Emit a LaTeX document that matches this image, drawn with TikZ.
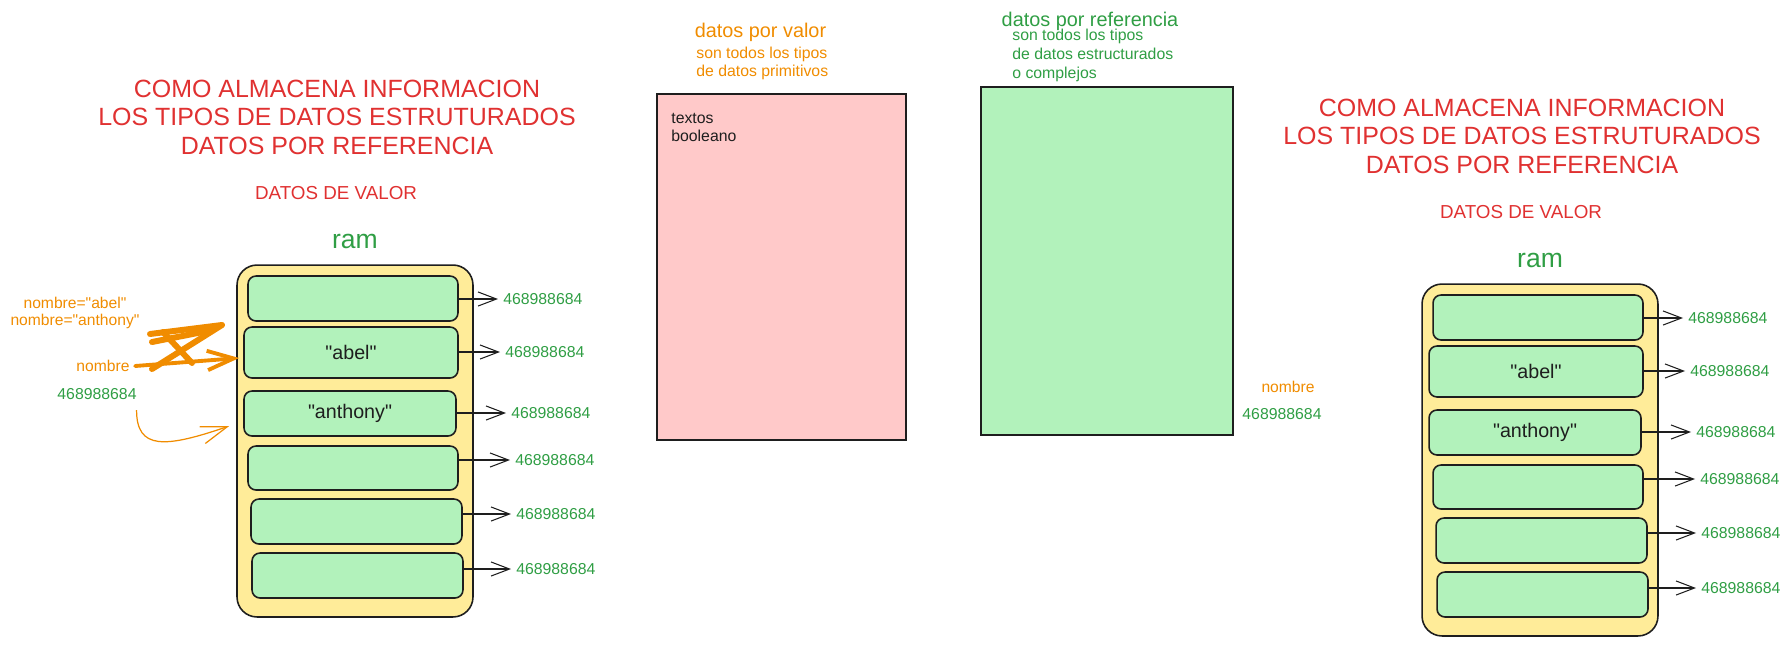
\documentclass[tikz,border=0pt]{standalone}
\usepackage{fontspec}
\setmainfont{Liberation Sans}[Ligatures=TeXOff]
\usetikzlibrary{positioning, arrows.meta, calc}

\definecolor{exred}{HTML}{E03131}
\definecolor{exgreen}{HTML}{2F9E44}
\definecolor{exorange}{HTML}{F08C00}
\definecolor{exink}{HTML}{1E1E1E}
\definecolor{ramfill}{HTML}{FFEC99}
\definecolor{cellfill}{HTML}{B2F2BB}
\definecolor{pinkfill}{HTML}{FFC9C9}

% one memory block: heading, ram box, cells and addresses
\newcommand{\ramblock}[1]{
    \node [title] (#1title) at (337,117) {
        COMO ALMACENA INFORMACION\\
        LOS TIPOS DE DATOS ESTRUTURADOS\\
        DATOS POR REFERENCIA
    };
    \node [subtitle] (#1valor) at (336,193) {DATOS DE VALOR};
    \node [rambox, minimum width=4.72cm, minimum height=7.04cm] (#1box) at (355,441) {};
    \node [ramlabel, above=0.3cm of #1box] (#1ram) {ram};
    \foreach \i/\cx/\cy/\w/\h/\lx/\ly/\txt in {
        1/353/298.5/4.2/0.9/498/299/{},
        2/351/352.5/4.28/1.02/500/352/{"abel"},
        3/350/413.5/4.24/0.9/506/413/{"anthony"},
        4/353/468/4.2/0.88/510/460/{},
        5/356.5/521.5/4.22/0.9/511/514/{},
        6/357.5/575.5/4.22/0.9/511/569/{}}
    {
        \node [cell, minimum width=\w cm, minimum height=\h cm] (#1c\i) at (\cx,\cy) {\txt};
        \node [addr] (#1n\i) at (\lx,\ly) {468988684};
        \draw [arr] (#1c\i.east |- #1n\i.west) -- (#1n\i.west);
    }
}

\begin{document}
\begin{tikzpicture}
    [x=0.02cm, y=-0.02cm,
     title/.style={text=exred, align=center, inner sep=0pt, font=\fontsize{14.2pt}{16.2pt}\selectfont},
     subtitle/.style={text=exred, inner sep=0pt, font=\fontsize{10.7pt}{12pt}\selectfont},
     ramlabel/.style={text=exgreen, inner sep=0pt, font=\fontsize{15.1pt}{17pt}\selectfont},
     rambox/.style={draw=exink, line width=0.9pt, fill=ramfill, rounded corners=0.4cm},
     cell/.style={draw=exink, line width=0.9pt, fill=cellfill, rounded corners=0.16cm, inner sep=0pt,
                  text=exink, font=\fontsize{11.2pt}{13pt}\selectfont},
     addr/.style={text=exgreen, anchor=west, inner sep=2.8pt, font=\fontsize{9pt}{10.6pt}\selectfont},
     note/.style={text=exorange, inner sep=0pt, font=\fontsize{8.9pt}{10.6pt}\selectfont},
     heading/.style={inner sep=0pt, font=\fontsize{11.3pt}{13pt}\selectfont},
     desc/.style={anchor=west, align=left, inner sep=0pt, font=\fontsize{9pt}{10.6pt}\selectfont},
     kind/.style={draw=exink, line width=1.4pt, inner sep=0pt},
     arr/.style={draw=exink, line width=0.6pt, -{Straight Barb[length=10.5pt, width=8pt]}},
     thickarr/.style={draw=exorange, line width=2.2pt, line cap=round, -{Straight Barb[length=15pt, width=11pt]}},
     thinarr/.style={draw=exorange, line width=0.7pt, -{Straight Barb[length=15pt, width=10pt]}},
     scribble/.style={draw=exorange, line width=3.4pt, line cap=round, line join=round},
    ]
    \useasboundingbox (0,0) rectangle (1790,646);

    % left block
    \begin{scope}
        \ramblock{L}
    \end{scope}

    % right block, same drawing further right
    \begin{scope}[shift={(1185,19)}]
        \ramblock{R}
    \end{scope}

    % notes on the left
    \node [note, align=center, font=\fontsize{8.9pt}{9.7pt}\selectfont] (vals) at (75,313) {
        nombre="abel"\\
        nombre="anthony"
    };
    \node [note] (nombre) at (103,366) {nombre};
    \node [addr, anchor=center] (addr) at (97,394) {468988684};

    \draw [scribble] (150,334) -- (222,325) -- (152,369);
    \draw [scribble] (163,332) -- (192,363);
    \draw [scribble] (152,342) -- (213,330);
    \draw [thickarr] ([xshift=3pt]nombre.east) -- ($(Lc2.west)+(-4,5.5)$);
    \draw [thinarr] ([xshift=-3pt, yshift=-3pt]addr.south east)
        .. controls +(0,40) and (165,448) .. ($(Lc3.west)+(-14,12.5)$);

    % value types
    \node [heading, text=exorange] (valor) at (760.5,32) {datos por valor};
    \node [desc, text=exorange] (valordesc) at (696,63.5) {
        son todos los tipos\\
        de datos primitivos
    };
    \node [kind, fill=pinkfill, minimum width=4.98cm, minimum height=6.92cm] (valorbox) at (781.5,267) {};
    \node [desc, text=exink] (prims) at (671,127.5) {
        textos\\
        booleano
    };

    % reference types
    \node [heading, text=exgreen] (ref) at (1090,21) {datos por referencia};
    \node [desc, text=exgreen] (refdesc) at (1012,55.5) {
        son todos los tipos\\
        de datos estructurados\\
        o complejos
    };
    \node [kind, fill=cellfill, minimum width=5.04cm, minimum height=6.96cm] (refbox) at (1107,261) {};

    \node [note] (nombre2) at (1288,387) {nombre};
    \node [addr, anchor=center] (addr2) at (1282,414) {468988684};

\end{tikzpicture}
\end{document}
